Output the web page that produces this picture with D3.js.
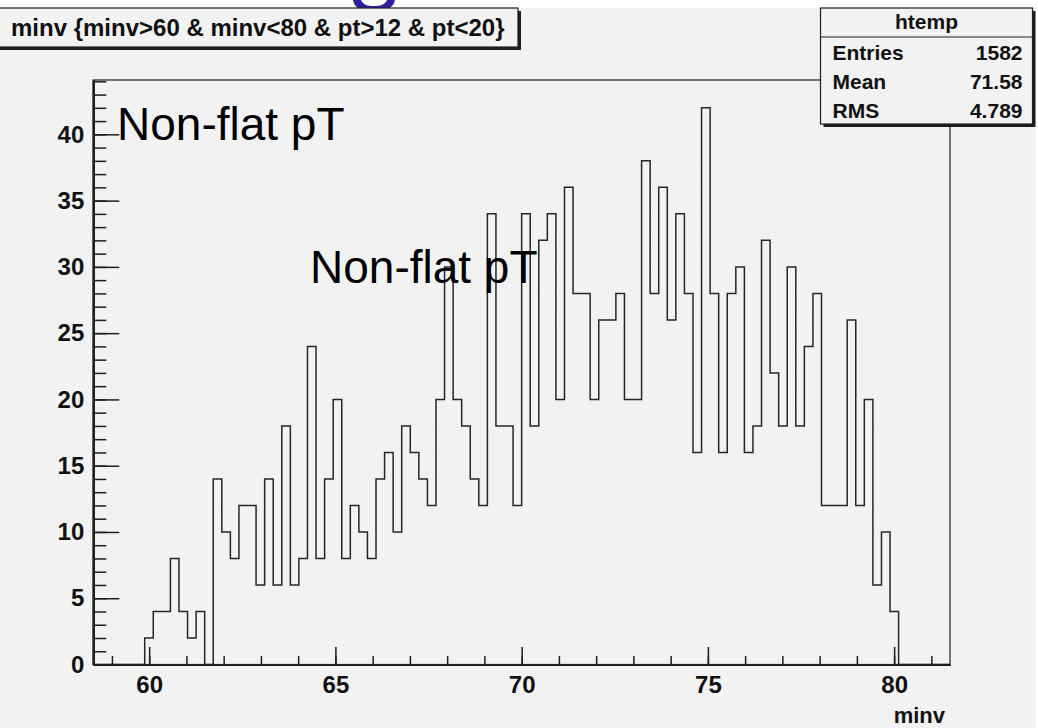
<!DOCTYPE html>
<html>
<head>
<meta charset="utf-8">
<script src="https://cdn.jsdelivr.net/npm/d3@7"></script>
<style>
  html, body { margin: 0; padding: 0; background: #ffffff; }
  svg { display: block; }
  text { font-family: "Liberation Sans", Arial, Helvetica, sans-serif; }
</style>
</head>
<body>
<svg id="chart" width="1038" height="728"></svg>
<script>
// ---- histogram definition --------------------------------------------
const histName = "htemp";
const titleText = "minv {minv>60 & minv<80 & pt>12 & pt<20}";
const xAxisTitle = "minv";
const axisRange = [58.5, 81.5];   // minv axis limits
const nBins = 100;
const binContents = [
  0, 0, 0, 0, 0, 0, 2, 4, 4, 8,
  4, 2, 4, 0, 14, 10, 8, 12, 12, 6,
  14, 6, 18, 6, 8, 24, 8, 14, 20, 8,
  12, 10, 8, 14, 16, 10, 18, 16, 14, 12,
  20, 30, 20, 18, 14, 12, 34, 18, 18, 12,
  34, 18, 32, 34, 20, 36, 28, 28, 20, 26,
  26, 28, 20, 20, 38, 28, 36, 26, 34, 28,
  16, 42, 28, 16, 28, 30, 16, 18, 32, 22,
  18, 30, 18, 24, 28, 12, 12, 12, 26, 12,
  20, 6, 10, 4, 0, 0, 0, 0, 0, 0
];
const xMajorTicks = [60, 65, 70, 75, 80];
const yMajorTicks = [0, 5, 10, 15, 20, 25, 30, 35, 40];
const statsLabels = ["Entries", "Mean", "RMS"];
const statsValues = ["1582", "71.58", "4.789"];
const noteText = "Non-flat pT";

// ---- layout ------------------------------------------------------------
const W = 1038, H = 728;
const frame = { left: 93.3, right: 950, top: 80, bottom: 664.5 };
const ink = "#1e1e1e";
const canvasGray = "#f2f2f2";

const svg = d3.select("#chart");

// slide background; the tail of a blue slide-heading letter shows at the top edge
svg.append("rect").attr("width", W).attr("height", H).attr("fill", "#ffffff");
svg.append("path")
  .attr("d", "M353,0 C355,11 368,12 374,12 C382,12 393,10 395,0 L387,0 C385,5 380,6 374,6 C368,6 363,5 361,0 Z")
  .attr("fill", "#2d1f9e");

// canvas area
svg.append("rect")
  .attr("x", 0).attr("y", 8).attr("width", 1036).attr("height", H - 8)
  .attr("fill", canvasGray);

// ---- scales ------------------------------------------------------------
const yMax = d3.max(binContents) * 1.05;
const x = d3.scaleLinear().domain(axisRange).range([frame.left, frame.right]);
const y = d3.scaleLinear().domain([0, yMax]).range([frame.bottom, frame.top]);

// frame
svg.append("rect")
  .attr("x", frame.left).attr("y", frame.top)
  .attr("width", frame.right - frame.left).attr("height", frame.bottom - frame.top)
  .attr("fill", "none").attr("stroke", ink).attr("stroke-width", 1.2);

// ---- histogram outline -------------------------------------------------
const binWidth = (axisRange[1] - axisRange[0]) / nBins;
const stepPoints = [[axisRange[0], 0]];
binContents.forEach((c, i) => {
  const lo = axisRange[0] + i * binWidth;
  stepPoints.push([lo, c], [lo + binWidth, c]);
});
stepPoints.push([axisRange[1], 0]);

svg.append("path")
  .datum(stepPoints)
  .attr("fill", "none")
  .attr("stroke", "#262626")
  .attr("stroke-width", 1.5)
  .attr("d", d3.line().x(d => x(d[0])).y(d => y(d[1])));

// ---- axes --------------------------------------------------------------
const minorX = d3.range(Math.ceil(axisRange[0]), Math.floor(axisRange[1]) + 1);
const minorY = d3.range(0, Math.floor(yMax) + 1);

function styleAxis(g) {
  g.select(".domain").attr("stroke", ink).attr("stroke-width", 2.2);
  g.selectAll(".tick line").attr("stroke", ink).attr("stroke-width", 1.5);
  g.selectAll(".tick text")
    .attr("fill", "#111")
    .attr("font-family", "'Liberation Sans', Arial, sans-serif")
    .attr("font-weight", "bold")
    .attr("font-size", 24);
}

// x minor ticks
svg.append("g")
  .attr("transform", `translate(0,${frame.bottom})`)
  .call(d3.axisBottom(x).tickValues(minorX).tickSizeInner(-8.5).tickSizeOuter(0).tickFormat(""))
  .call(styleAxis);
// x major ticks + labels
svg.append("g")
  .attr("transform", `translate(0,${frame.bottom})`)
  .call(d3.axisBottom(x).tickValues(xMajorTicks).tickSizeInner(-17.5).tickSizeOuter(0).tickPadding(11).tickFormat(d3.format("d")))
  .call(styleAxis);

// y minor ticks
svg.append("g")
  .attr("transform", `translate(${frame.left},0)`)
  .call(d3.axisLeft(y).tickValues(minorY).tickSizeInner(-13).tickSizeOuter(0).tickFormat(""))
  .call(styleAxis);
// y major ticks + labels
svg.append("g")
  .attr("transform", `translate(${frame.left},0)`)
  .call(d3.axisLeft(y).tickValues(yMajorTicks).tickSizeInner(-26).tickSizeOuter(0).tickPadding(9).tickFormat(d3.format("d")))
  .call(styleAxis);

// axis title
svg.append("text")
  .attr("x", 945).attr("y", 723)
  .attr("text-anchor", "end")
  .attr("font-size", 22).attr("font-weight", "bold").attr("fill", "#111")
  .text(xAxisTitle);

// ---- free text annotations ---------------------------------------------
[[117, 140], [310, 283]].forEach(([tx, ty]) => {
  svg.append("text")
    .attr("x", tx).attr("y", ty)
    .attr("font-size", 46).attr("fill", "#000")
    .text(noteText);
});

// ---- boxes with drop shadow --------------------------------------------
function shadowBox(bx, by, bw, bh) {
  svg.append("rect")
    .attr("x", bx + 3).attr("y", by + 3).attr("width", bw).attr("height", bh)
    .attr("fill", ink);
  svg.append("rect")
    .attr("x", bx).attr("y", by).attr("width", bw).attr("height", bh)
    .attr("fill", canvasGray).attr("stroke", ink).attr("stroke-width", 1.2);
}

// title box
shadowBox(-3, 8, 521, 39);
svg.append("text")
  .attr("x", 11).attr("y", 36)
  .attr("font-size", 24).attr("font-weight", "bold").attr("fill", "#111")
  .text(titleText);

// statistics box
const sb = { x: 820.5, y: 8, w: 212, h: 116 };
shadowBox(sb.x, sb.y, sb.w, sb.h);
svg.append("line")
  .attr("x1", sb.x).attr("x2", sb.x + sb.w)
  .attr("y1", 37).attr("y2", 37)
  .attr("stroke", ink).attr("stroke-width", 1.2);
svg.append("text")
  .attr("x", sb.x + sb.w / 2).attr("y", 29)
  .attr("text-anchor", "middle")
  .attr("font-size", 21).attr("font-weight", "bold").attr("fill", "#111")
  .text(histName);

const rowY = d3.scalePoint().domain(statsLabels).range([60, 118]);
statsLabels.forEach((lab, i) => {
  svg.append("text")
    .attr("x", sb.x + 12).attr("y", rowY(lab))
    .attr("font-size", 21).attr("font-weight", "bold").attr("fill", "#111")
    .text(lab);
  svg.append("text")
    .attr("x", sb.x + sb.w - 10).attr("y", rowY(lab))
    .attr("text-anchor", "end")
    .attr("font-size", 21).attr("font-weight", "bold").attr("fill", "#111")
    .text(statsValues[i]);
});
</script>
</body>
</html>
